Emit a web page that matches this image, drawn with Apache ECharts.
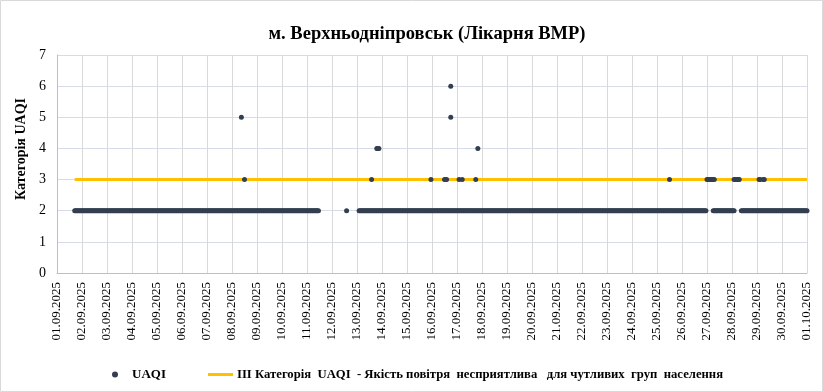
<!DOCTYPE html>
<html>
<head>
<meta charset="utf-8">
<script src="https://cdn.jsdelivr.net/npm/echarts@6/dist/echarts.min.js"></script>
<style>
html,body{margin:0;padding:0;background:#fff;}
#chart{width:823px;height:392px;}
</style>
</head>
<body>
<div id="chart"></div>
<script>
// Tick labels (one per day, 01.09.2025 .. 01.10.2025)
const tickLabels = ['01.09.2025','02.09.2025','03.09.2025','04.09.2025','05.09.2025','06.09.2025','07.09.2025','08.09.2025','09.09.2025','10.09.2025','11.09.2025','12.09.2025','13.09.2025','14.09.2025','15.09.2025','16.09.2025','17.09.2025','18.09.2025','19.09.2025','20.09.2025','21.09.2025','22.09.2025','23.09.2025','24.09.2025','25.09.2025','26.09.2025','27.09.2025','28.09.2025','29.09.2025','30.09.2025','01.10.2025'];

// Hourly UAQI category (base readings), one string per day (hours 00..23), '-' = no reading
const hourlyUAQI = [
  '-----------------2222222', // 01.09
  '222222222222222222222222', // 02.09
  '222222222222222222222222', // 03.09
  '222222222222222222222222', // 04.09
  '222222222222222222222222', // 05.09
  '222222222222222222222222', // 06.09
  '222222222222222222222222', // 07.09
  '222222222222222222222222', // 08.09
  '222222222222222222222222', // 09.09
  '222222222222222222222222', // 10.09
  '222222222222------------', // 11.09
  '--------------2---------', // 12.09
  '--2222222222222222222222', // 13.09
  '222222222222222222222222', // 14.09
  '222222222222222222222222', // 15.09
  '222222222222222222222222', // 16.09
  '222222222222222222222222', // 17.09
  '222222222222222222222222', // 18.09
  '222222222222222222222222', // 19.09
  '222222222222222222222222', // 20.09
  '222222222222222222222222', // 21.09
  '222222222222222222222222', // 22.09
  '222222222222222222222222', // 23.09
  '222222222222222222222222', // 24.09
  '222222222222222222222222', // 25.09
  '222222222222222222222222', // 26.09
  '------222222222222222222', // 27.09
  '222------222222222222222', // 28.09
  '222222222222222222222222', // 29.09
  '222222222222222222222222', // 30.09
  '2'                         // 01.10 00:00
];

// Elevated readings: [day index from 01.09, hour, category]
const elevatedUAQI = [
  [7, 9, 5], [7, 12, 3],
  [12, 14, 3], [12, 19, 4], [12, 20, 4], [12, 21, 4],
  [14, 23, 3],
  [15, 12, 3], [15, 13, 3], [15, 14, 3], [15, 18, 6], [15, 18, 5],
  [16, 2, 3], [16, 5, 3], [16, 18, 3], [16, 20, 4],
  [24, 12, 3],
  [26, 0, 3], [26, 1, 3], [26, 2, 3], [26, 3, 3], [26, 4, 3], [26, 5, 3], [26, 6, 3], [26, 7, 3],
  [27, 2, 3], [27, 3, 3], [27, 4, 3], [27, 5, 3], [27, 6, 3], [27, 7, 3],
  [28, 2, 3], [28, 3, 3], [28, 6, 3], [28, 7, 3]
];

// Threshold line (category III) from first to last observation, in hours since 01.09 00:00
const thresholdValue = 3;
const thresholdStartHour = 17;
const thresholdEndHour = 720;

const seriesName = 'UAQI';
const thresholdName = 'ІІІ Категорія  UAQI  - Якість повітря  несприятлива   для чутливих  груп  населення';

// Build scatter data: x = days since 01.09 00:00
const uaqiPoints = [];
hourlyUAQI.forEach((dayStr, d) => {
  for (let h = 0; h < dayStr.length; h++) {
    const c = dayStr[h];
    if (c !== '-') uaqiPoints.push([d + h / 24, Number(c)]);
  }
});
elevatedUAQI.forEach(([d, h, v]) => uaqiPoints.push([d + h / 24, v]));
const thresholdPoints = [[thresholdStartHour / 24, thresholdValue], [thresholdEndHour / 24, thresholdValue]];

const serif = '"Liberation Serif","Times New Roman",serif';
const chart = echarts.init(document.getElementById('chart'));
chart.setOption({
  backgroundColor: '#ffffff',
  animation: false,
  title: {
    text: 'м. Верхньодніпровськ (Лікарня ВМР)',
    left: 422, top: 20, textAlign: 'center',
    textStyle: {fontFamily: serif, fontSize: 18.5, fontWeight: 'bold', color: '#000'}
  },
  graphic: [{
    type: 'rect', silent: true, z: 100,
    shape: {x: 0.5, y: 0.5, width: 822, height: 391},
    style: {fill: 'none', stroke: '#d9d9d9', lineWidth: 1}
  }],
  legend: [{
    data: [seriesName],
    left: 107, top: 363,
    icon: 'circle', itemWidth: 6, itemHeight: 6,
    textStyle: {fontFamily: serif, fontSize: 13, fontWeight: 'bold', color: '#000', padding: [0, 0, 0, 9]}
  }, {
    data: [thresholdName],
    left: 203, top: 363,
    icon: 'rect', itemWidth: 25, itemHeight: 3,
    textStyle: {fontFamily: serif, fontSize: 12.7, fontWeight: 'bold', color: '#000', padding: [0, 0, 0, -1]}
  }],
  grid: {left: 57, right: 16, top: 55, bottom: 119, containLabel: false},
  xAxis: {
    type: 'value', min: 0, max: 30, interval: 1,
    axisLine: {show: true, lineStyle: {color: '#bfbfbf', width: 1}},
    axisTick: {show: false},
    splitLine: {show: true, lineStyle: {color: '#d9d9d9', width: 1}},
    axisLabel: {
      rotate: 90, margin: 9, fontFamily: serif, fontSize: 13, color: '#000',
      formatter: v => tickLabels[Math.round(v)] || ''
    }
  },
  yAxis: {
    type: 'value', min: 0, max: 7, interval: 1,
    name: 'Категорія UAQI', nameLocation: 'middle', nameGap: 27, nameRotate: 90,
    nameTextStyle: {fontFamily: serif, fontSize: 14, fontWeight: 'bold', color: '#000', padding: [0, 0, 0, 30]},
    axisLine: {show: true, lineStyle: {color: '#bfbfbf', width: 1}},
    axisTick: {show: false},
    splitLine: {show: true, lineStyle: {color: '#d6dce5', width: 1}},
    axisLabel: {margin: 11, fontFamily: serif, fontSize: 14, color: '#000'}
  },
  series: [{
    name: thresholdName, type: 'line', data: thresholdPoints,
    symbol: 'none', z: 2,
    itemStyle: {color: '#ffc000'},
    lineStyle: {color: '#ffc000', width: 3}
  }, {
    name: seriesName, type: 'scatter', data: uaqiPoints,
    symbol: 'circle', symbolSize: 5, z: 3,
    itemStyle: {color: '#333f50', opacity: 1}
  }]
});
</script>
</body>
</html>
